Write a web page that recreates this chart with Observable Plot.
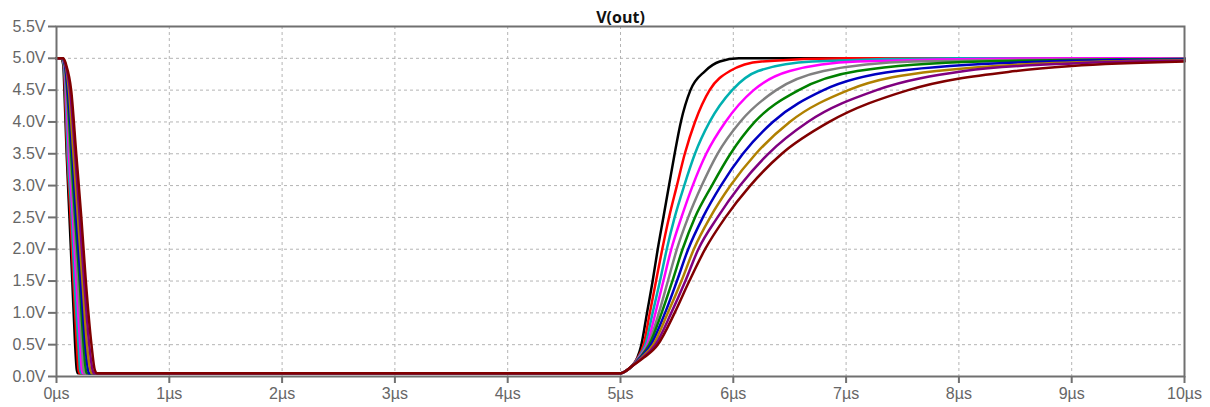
<!DOCTYPE html>
<html>
<head>
<meta charset="utf-8">
<script src="https://cdn.jsdelivr.net/npm/d3@7"></script>
<script src="https://cdn.jsdelivr.net/npm/@observablehq/plot@0.6"></script>
<style>
  html, body { margin: 0; padding: 0; background: #fff; }
  #chart svg { display: block; }
</style>
</head>
<body>
<div id="chart"></div>
<script>
// ---- data ----
const seriesNames = ["s1", "s2", "s3", "s4", "s5", "s6", "s7", "s8", "s9", "s10"];
const seriesColors = ["#000000", "#ff0000", "#00b0b0", "#ff00ff", "#808080", "#008000", "#0000c0", "#b08000", "#800080", "#800000"];

const xTicks = [0, 1, 2, 3, 4, 5, 6, 7, 8, 9, 10];           // µs
const yTicks = [0, 0.5, 1, 1.5, 2, 2.5, 3, 3.5, 4, 4.5, 5, 5.5]; // V

// falling edge: voltage levels and the time (µs) each trace reaches them
const fallLevels = [5.0, 5.0, 4.9, 4.5, 3.5, 2.5, 1.5, 0.5, 0.1, 0.05];
const fallTimes = [
  [0, 0.040, 0.060, 0.070, 0.090, 0.115, 0.140, 0.165, 0.180, 0.190],
  [0, 0.040, 0.065, 0.075, 0.095, 0.125, 0.150, 0.180, 0.195, 0.205],
  [0, 0.045, 0.065, 0.080, 0.100, 0.135, 0.160, 0.195, 0.210, 0.220],
  [0, 0.045, 0.070, 0.085, 0.110, 0.145, 0.175, 0.210, 0.225, 0.235],
  [0, 0.050, 0.070, 0.090, 0.120, 0.155, 0.190, 0.225, 0.240, 0.250],
  [0, 0.050, 0.075, 0.095, 0.130, 0.165, 0.205, 0.240, 0.260, 0.270],
  [0, 0.050, 0.075, 0.100, 0.140, 0.175, 0.215, 0.255, 0.280, 0.290],
  [0, 0.055, 0.080, 0.110, 0.150, 0.190, 0.230, 0.270, 0.300, 0.310],
  [0, 0.055, 0.080, 0.120, 0.165, 0.205, 0.245, 0.290, 0.320, 0.330],
  [0, 0.060, 0.085, 0.130, 0.175, 0.220, 0.260, 0.310, 0.340, 0.360]
];

// shared start of the rising edge [t µs, V]
const riseStart = [[5.0, 0.05], [5.05, 0.09], [5.1, 0.16]];

// rising edge of each trace [t µs, V]
const riseBlack   = [[5.15,0.3],[5.185,0.5],[5.235,1.0],[5.285,1.5],[5.33,2.0],[5.38,2.5],[5.43,3.0],[5.48,3.5],[5.535,4.0],[5.62,4.5],[5.75,4.8],[5.88,4.95],[6.05,5.0],[10,5.0]];
const riseRed     = [[5.155,0.3],[5.205,0.5],[5.26,1.0],[5.315,1.5],[5.37,2.0],[5.43,2.5],[5.50,3.0],[5.57,3.5],[5.66,4.0],[5.79,4.5],[5.97,4.8],[6.25,4.95],[7.0,5.0],[10,5.0]];
const riseCyan    = [[5.16,0.3],[5.22,0.5],[5.285,1.0],[5.35,1.5],[5.41,2.0],[5.48,2.5],[5.565,3.0],[5.66,3.5],[5.79,4.0],[5.99,4.5],[6.22,4.8],[6.7,4.95],[8.0,5.0],[10,5.0]];
const riseMagenta = [[5.165,0.3],[5.235,0.5],[5.31,1.0],[5.38,1.5],[5.45,2.0],[5.54,2.5],[5.64,3.0],[5.76,3.5],[5.93,4.0],[6.18,4.5],[6.50,4.8],[7.1,4.95],[9.0,5.0],[10,5.0]];
const riseGray    = [[5.17,0.3],[5.245,0.5],[5.34,1.0],[5.42,1.5],[5.50,2.0],[5.60,2.5],[5.72,3.0],[5.86,3.5],[6.06,4.0],[6.38,4.5],[6.80,4.8],[7.6,4.95],[10,4.995]];
const riseGreen   = [[5.175,0.3],[5.255,0.5],[5.365,1.0],[5.46,1.5],[5.55,2.0],[5.66,2.5],[5.81,3.0],[5.975,3.5],[6.19,4.0],[6.58,4.5],[7.10,4.8],[8.2,4.95],[10,4.99]];
const riseBlue    = [[5.18,0.3],[5.27,0.5],[5.395,1.0],[5.50,1.5],[5.60,2.0],[5.73,2.5],[5.89,3.0],[6.085,3.5],[6.35,4.0],[6.80,4.5],[7.45,4.8],[8.8,4.95],[10,4.98]];
const riseGold    = [[5.19,0.3],[5.29,0.5],[5.42,1.0],[5.54,1.5],[5.65,2.0],[5.795,2.5],[5.975,3.0],[6.20,3.5],[6.50,4.0],[7.02,4.5],[7.80,4.8],[9.3,4.95],[10,4.97]];
const risePurple  = [[5.20,0.3],[5.31,0.5],[5.45,1.0],[5.575,1.5],[5.69,2.0],[5.86,2.5],[6.06,3.0],[6.31,3.5],[6.66,4.0],[7.27,4.5],[8.05,4.8],[9.0,4.92],[10,4.96]];
const riseMaroon  = [[5.21,0.3],[5.33,0.5],[5.48,1.0],[5.61,1.5],[5.75,2.0],[5.93,2.5],[6.15,3.0],[6.43,3.5],[6.85,4.0],[7.55,4.5],[8.5,4.8],[9.0,4.88],[10,4.95]];

const riseAll = [riseBlack, riseRed, riseCyan, riseMagenta, riseGray, riseGreen, riseBlue, riseGold, risePurple, riseMaroon];

// ---- build table ----
const rows = [];
seriesNames.forEach((name, i) => {
  fallTimes[i].forEach((t, k) => rows.push({series: name, t, v: fallLevels[k]}));
  riseStart.forEach(([t, v]) => rows.push({series: name, t, v}));
  riseAll[i].forEach(([t, v]) => rows.push({series: name, t, v}));
});

const axisFont = "Liberation Sans, Arial, sans-serif";

const chart = Plot.plot({
  width: 1210,
  height: 407,
  marginLeft: 56,
  marginRight: 26,
  marginTop: 26,
  marginBottom: 31,
  style: {fontFamily: axisFont, background: "#fff", overflow: "visible"},
  x: {domain: [0, 10]},
  y: {domain: [0, 5.5]},
  color: {type: "ordinal", domain: seriesNames, range: seriesColors},
  marks: [
    Plot.gridX(xTicks, {stroke: "#b4b4b4", strokeOpacity: 1, strokeDasharray: "3,3"}),
    Plot.gridY(yTicks, {stroke: "#b4b4b4", strokeOpacity: 1, strokeDasharray: "3,3"}),
    Plot.line(rows, {x: "t", y: "v", z: "series", stroke: "series", strokeWidth: 2.5, curve: "monotone-x"}),
    Plot.frame({stroke: "#707070", strokeWidth: 2}),
    Plot.axisX(xTicks, {tickFormat: d => d + "µs", tickSize: 7, tickPadding: 4, fontSize: 16, color: "#666", strokeWidth: 2, stroke: "#707070", label: null}),
    Plot.axisY(yTicks, {tickFormat: d => d.toFixed(1) + "V", tickSize: 8, tickPadding: 3, fontSize: 16, color: "#666", strokeWidth: 2, stroke: "#707070", label: null}),
    Plot.text(["V(out)"], {frameAnchor: "top", lineAnchor: "bottom", dy: -4, fontSize: 16, fontWeight: "bold", fontFamily: "Open Sans, sans-serif", fill: "#111"})
  ]
});
document.getElementById("chart").appendChild(chart);
</script>
</body>
</html>
